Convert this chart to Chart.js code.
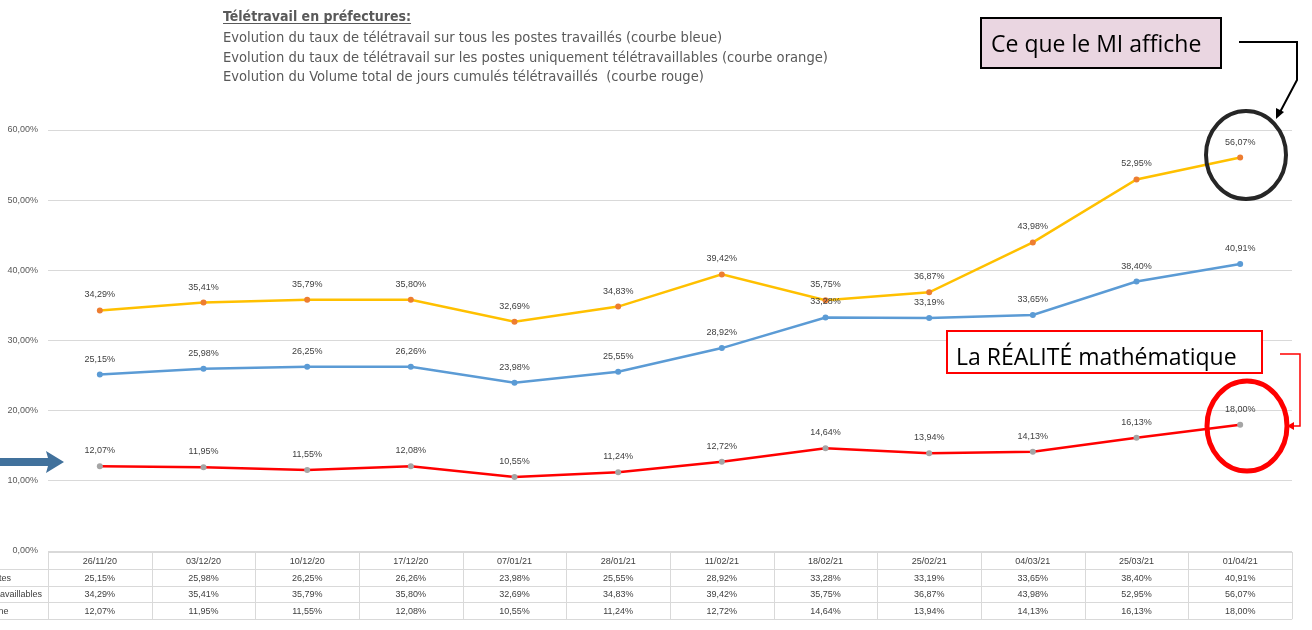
<!DOCTYPE html>
<html>
<head>
<meta charset="utf-8">
<script src="https://cdn.jsdelivr.net/npm/chart.js@4"></script>
<style>
  html, body { margin: 0; padding: 0; background: #fff; }
  #wrap { width: 1312px; height: 630px; position: relative; }
</style>
</head>
<body>
<div id="wrap"><canvas id="teleChart" width="1312" height="630"></canvas></div>
<script>
const dates = ['26/11/20', '03/12/20', '10/12/20', '17/12/20', '07/01/21', '28/01/21',
  '11/02/21', '18/02/21', '25/02/21', '04/03/21', '25/03/21', '01/04/21'];
const tousPostes = [25.15, 25.98, 26.25, 26.26, 23.98, 25.55, 28.92, 33.28, 33.19, 33.65, 38.40, 40.91];
const postesTeletravaillables = [34.29, 35.41, 35.79, 35.80, 32.69, 34.83, 39.42, 35.75, 36.87, 43.98, 52.95, 56.07];
const volumeSemaine = [12.07, 11.95, 11.55, 12.08, 10.55, 11.24, 12.72, 14.64, 13.94, 14.13, 16.13, 18.00];
const seriesNames = ['Sur tous les postes', 'Sur postes télétravaillables', 'Jours par semaine'];
const titleLines = [
  'Evolution du taux de télétravail sur tous les postes travaillés (courbe bleue)',
  'Evolution du taux de télétravail sur les postes uniquement télétravaillables (courbe orange)',
  'Evolution du Volume total de jours cumulés télétravaillés  (courbe rouge)'
];

function pct(v) {
  return v.toFixed(2).replace('.', ',') + '%';
}

const FONT = '"Liberation Sans", Arial, sans-serif';

// value labels above each point
const pointLabels = {
  id: 'pointLabels',
  afterDatasetsDraw(chart) {
    const ctx = chart.ctx;
    ctx.save();
    ctx.font = '9px ' + FONT;
    ctx.fillStyle = '#404040';
    ctx.textAlign = 'center';
    ctx.textBaseline = 'bottom';
    chart.data.datasets.forEach((ds, i) => {
      chart.getDatasetMeta(i).data.forEach((pt, j) => {
        ctx.fillText(pct(ds.data[j]), pt.x, pt.y - 11);
      });
    });
    ctx.restore();
  }
};

// data table under the plot
const dataTable = {
  id: 'dataTable',
  afterDraw(chart) {
    const ctx = chart.ctx;
    const x = chart.scales.x;
    const left = chart.chartArea.left;
    const right = chart.chartArea.right;
    const colW = (right - left) / dates.length;
    const top = chart.chartArea.bottom + 1;
    const rowH = 16.8;
    ctx.save();
    ctx.strokeStyle = '#d9d9d9';
    ctx.lineWidth = 1;
    ctx.beginPath();
    ctx.moveTo(left, top + 0.5); ctx.lineTo(right, top + 0.5);
    for (let r = 1; r <= 4; r++) {
      const y = Math.round(top + r * rowH) + 0.5;
      ctx.moveTo(0, y); ctx.lineTo(right, y);
    }
    for (let c = 0; c <= dates.length; c++) {
      const xx = Math.round(left + c * colW) + 0.5;
      ctx.moveTo(xx, top); ctx.lineTo(xx, top + 4 * rowH);
    }
    ctx.stroke();

    ctx.font = '9px ' + FONT;
    ctx.fillStyle = '#404040';
    ctx.textAlign = 'center';
    ctx.textBaseline = 'middle';
    const rows = [tousPostes, postesTeletravaillables, volumeSemaine];
    dates.forEach((d, j) => {
      const cx = x.getPixelForValue(j);
      ctx.fillText(d, cx, top + rowH / 2 + 1);
      rows.forEach((vals, r) => {
        ctx.fillText(pct(vals[j]), cx, top + (r + 1.5) * rowH + 1);
      });
    });
    // series names, cut at the left border like in the source sheet
    ctx.textAlign = 'left';
    const startX = 11 - ctx.measureText(seriesNames[0]).width;
    seriesNames.forEach((n, r) => {
      ctx.fillText(n, startX, top + (r + 1.5) * rowH + 1);
    });
    ctx.restore();
  }
};

// title text and callouts
const annotations = {
  id: 'annotations',
  afterDraw(chart) {
    const ctx = chart.ctx;
    ctx.save();
    ctx.fillStyle = '#595959';
    ctx.textBaseline = 'alphabetic';
    ctx.textAlign = 'left';
    ctx.font = 'bold 14px "Liberation Sans Narrow", "DejaVu Sans Condensed", sans-serif';
    const head = 'Télétravail en préfectures:';
    ctx.fillText(head, 223, 21);
    const hw = ctx.measureText(head).width;
    ctx.fillRect(223, 23, hw, 1);
    ctx.font = '14.6px "Liberation Sans Narrow", "DejaVu Sans Condensed", sans-serif';
    titleLines.forEach((t, i) => ctx.fillText(t, 223, 42 + i * 19.6));

    // "Ce que le MI affiche"
    ctx.fillStyle = '#ead6e1';
    ctx.fillRect(981, 18, 240, 50);
    ctx.strokeStyle = '#000';
    ctx.lineWidth = 2;
    ctx.strokeRect(981, 18, 240, 50);
    ctx.fillStyle = '#000';
    ctx.font = '23px "Open Sans", sans-serif';
    ctx.fillText('Ce que le MI affiche', 991, 52);
    ctx.beginPath();
    ctx.moveTo(1239, 42); ctx.lineTo(1297, 42); ctx.lineTo(1297, 80); ctx.lineTo(1279, 114);
    ctx.stroke();
    ctx.beginPath();
    ctx.moveTo(1276, 119); ctx.lineTo(1276, 108); ctx.lineTo(1284, 112); ctx.closePath();
    ctx.fill();
    ctx.strokeStyle = '#262626';
    ctx.lineWidth = 4;
    ctx.beginPath();
    ctx.ellipse(1246, 155, 40, 44, 0, 0, Math.PI * 2);
    ctx.stroke();

    // "La REALITE mathematique"
    ctx.fillStyle = '#fff';
    ctx.fillRect(947, 331, 315, 42);
    ctx.strokeStyle = '#ff0000';
    ctx.lineWidth = 2;
    ctx.strokeRect(947, 331, 315, 42);
    ctx.fillStyle = '#000';
    ctx.fillText('La RÉALITÉ mathématique', 956, 365);
    ctx.strokeStyle = '#ff0000';
    ctx.lineWidth = 1.5;
    ctx.beginPath();
    ctx.moveTo(1280, 354); ctx.lineTo(1300, 354); ctx.lineTo(1300, 426); ctx.lineTo(1292, 426);
    ctx.stroke();
    ctx.fillStyle = '#ff0000';
    ctx.beginPath();
    ctx.moveTo(1287, 426); ctx.lineTo(1294, 422); ctx.lineTo(1294, 430); ctx.closePath();
    ctx.fill();
    ctx.lineWidth = 5;
    ctx.beginPath();
    ctx.ellipse(1247, 426, 40, 45, 0, 0, Math.PI * 2);
    ctx.stroke();

    // blue arrow at the left
    ctx.fillStyle = '#41719c';
    ctx.beginPath();
    ctx.moveTo(0, 458); ctx.lineTo(48, 458); ctx.lineTo(46, 451); ctx.lineTo(64, 462);
    ctx.lineTo(46, 473); ctx.lineTo(48, 466); ctx.lineTo(0, 466); ctx.closePath();
    ctx.fill();
    ctx.restore();
  }
};

document.addEventListener('DOMContentLoaded', function () {
  const ctx = document.getElementById('teleChart').getContext('2d');
  new Chart(ctx, {
    type: 'line',
    data: {
      labels: dates,
      datasets: [{
        label: seriesNames[0],
        data: tousPostes,
        borderColor: '#5b9bd5',
        backgroundColor: '#5b9bd5',
        borderWidth: 2.5,
        pointRadius: 3,
        pointBorderWidth: 0
      }, {
        label: seriesNames[1],
        data: postesTeletravaillables,
        borderColor: '#ffc000',
        backgroundColor: '#ed7d31',
        borderWidth: 2.5,
        pointRadius: 3,
        pointBorderWidth: 0
      }, {
        label: seriesNames[2],
        data: volumeSemaine,
        borderColor: '#ff0000',
        backgroundColor: '#a5a5a5',
        borderWidth: 2.5,
        pointRadius: 3,
        pointBorderWidth: 0
      }]
    },
    options: {
      responsive: false,
      animation: false,
      layout: { padding: { top: 130, right: 20, bottom: 71, left: 0 } },
      plugins: {
        legend: { display: false },
        tooltip: { enabled: false }
      },
      scales: {
        x: {
          offset: true,
          grid: { display: false },
          border: { display: false },
          ticks: { display: false }
        },
        y: {
          min: 0,
          max: 60,
          afterFit(scale) { scale.width = 48; },
          grid: { color: '#d9d9d9', drawTicks: false },
          border: { display: false },
          ticks: {
            stepSize: 10,
            padding: 10,
            color: '#595959',
            font: { family: FONT, size: 9 },
            callback: v => pct(v)
          }
        }
      }
    },
    plugins: [pointLabels, dataTable, annotations]
  });
});
</script>
</body>
</html>
